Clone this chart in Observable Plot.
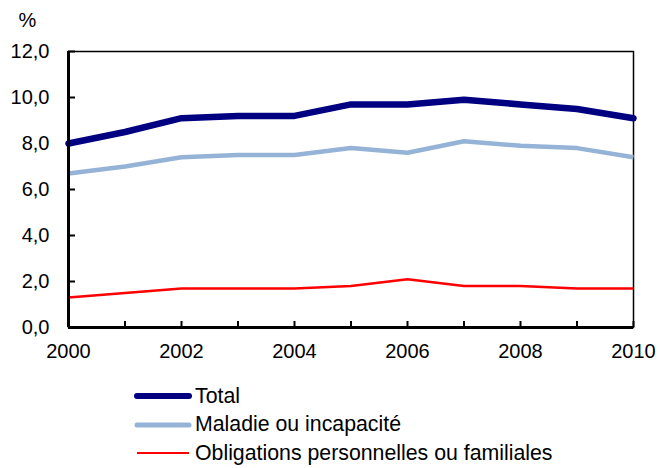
<!DOCTYPE html>
<html><head><meta charset="utf-8">
<script src="https://cdn.jsdelivr.net/npm/d3@7"></script>
<script src="https://cdn.jsdelivr.net/npm/@observablehq/plot@0.6"></script>
<style>
body{margin:0;background:#fff;font-family:"Liberation Sans",Arial,sans-serif;}
#chart{position:relative;width:660px;height:468px;overflow:hidden;}
#legend{position:absolute;left:131px;top:382px;font-size:21.3px;color:#000;}
.row{display:flex;align-items:center;height:28.5px;}
.row svg{display:block;margin-right:2px;}
</style></head><body><div id="chart"></div><script>
const years = [2000,2001,2002,2003,2004,2005,2006,2007,2008,2009,2010];
const total = [8.0,8.5,9.1,9.2,9.2,9.7,9.7,9.9,9.7,9.5,9.1];
const maladie = [6.7,7.0,7.4,7.5,7.5,7.8,7.6,8.1,7.9,7.8,7.4];
const obligations = [1.3,1.5,1.7,1.7,1.7,1.8,2.1,1.8,1.8,1.7,1.7];
const seriesNames = ["Total","Maladie ou incapacité","Obligations personnelles ou familiales"];
const seriesColors = ["#000080","#95B3D7","#FF0000"];
const seriesWidths = [6.5,4.5,2.5];
const yTicks = [0,2,4,6,8,10,12];
const xTickLabels = [2000,2002,2004,2006,2008,2010];
const unitLabel = "%";

const rows = [];
[total, maladie, obligations].forEach((vals, s) => {
  vals.forEach((v, i) => rows.push({series: seriesNames[s], year: years[i], value: v}));
});
const fmt = d => d.toFixed(1).replace(".", ",");

const plot = Plot.plot({
  width: 660,
  height: 365,
  marginLeft: 68,
  marginRight: 27,
  marginTop: 51,
  marginBottom: 38,
  style: {fontFamily: '"Liberation Sans", Arial, sans-serif', fontSize: "20px", color: "#000", background: "#fff"},
  x: {domain: [2000, 2010]},
  y: {domain: [0, 12]},
  marks: [
    Plot.frame({stroke: "#000", strokeWidth: 1.5}),
    Plot.axisY({ticks: yTicks, tickSize: 0, tickPadding: 19, tickFormat: fmt, label: null}),
    Plot.axisX({ticks: xTickLabels, tickSize: 0, tickPadding: 16, tickFormat: d => String(d), label: null}),
    Plot.ruleY(yTicks, {y: d => d, x1: 2000, x2: 2000, insetRight: -7, stroke: "#000", strokeWidth: 2}),
    Plot.ruleX(years, {x: d => d, y1: 0, y2: 0, insetBottom: 6, stroke: "#000", strokeWidth: 2}),
    ...seriesNames.slice().reverse().map(name => {
      const s = seriesNames.indexOf(name);
      return Plot.line(rows.filter(r => r.series === name), {
        x: "year", y: "value", stroke: seriesColors[s], strokeWidth: seriesWidths[s],
        strokeLinejoin: "round", strokeLinecap: s === 0 ? "round" : "butt"
      });
    }),
    Plot.ruleX([2000], {stroke: "#000", strokeWidth: 3}),
    Plot.ruleY([0], {stroke: "#000", strokeWidth: 3}),
    Plot.text([unitLabel], {frameAnchor: "top-left", text: d => d, dx: -50, dy: -31, textAnchor: "start", lineAnchor: "middle", fontSize: 20})
  ]
});
const chart = document.getElementById("chart");
chart.appendChild(plot);

const legend = document.createElement("div");
legend.id = "legend";
seriesNames.forEach((name, s) => {
  const row = document.createElement("div");
  row.className = "row";
  row.innerHTML = `<svg width="62" height="10"><line x1="6" y1="5" x2="58" y2="5" stroke="${seriesColors[s]}" stroke-width="${s===0?6:s===1?5:2}" stroke-linecap="${s===2?'butt':'round'}"/></svg><span>${name}</span>`;
  legend.appendChild(row);
});
chart.appendChild(legend);
</script></body></html>
